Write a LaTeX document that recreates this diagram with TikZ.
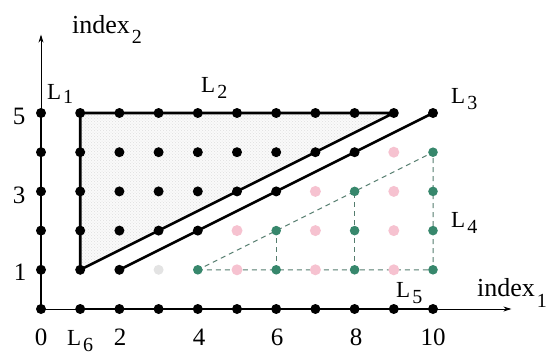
\documentclass[tikz,border=0pt]{standalone}
\usepackage{fontspec}
\setmainfont{Liberation Serif}
\usetikzlibrary{patterns,arrows.meta}
\definecolor{pinkdot}{RGB}{246,194,208}
\definecolor{greendot}{RGB}{55,135,108}
\definecolor{dashgreen}{RGB}{85,125,110}
\begin{document}
\begin{tikzpicture}[x=1pt,y=1pt,
  num/.style={font=\fontsize{25}{25}\selectfont, inner sep=0pt, anchor=base},
  llab/.style={font=\fontsize{23}{23}\selectfont, inner sep=0pt, anchor=base west},
  ilab/.style={font=\fontsize{26}{26}\selectfont, inner sep=0pt, anchor=base west},
  axisline/.style={line width=0.9pt, -{Stealth[length=8pt,width=5pt]}},
  thickline/.style={line width=2.6pt, line join=round},
  gdash/.style={dashgreen, line width=1pt, dash pattern=on 5pt off 4pt},
  bdot/.style={fill=black},
  pdot/.style={fill=pinkdot},
  gdot/.style={fill=greendot}]
\useasboundingbox (0,0) rectangle (555,360);
\newcommand{\subs}[3]{#1\kern2pt\raisebox{-#3}{\fontsize{20}{20}\selectfont #2}}
\begin{scope}[shift={(41,51)}, x=39.2pt, y=39.2pt]
  \coordinate (O) at (0,0);
  \coordinate (XE) at (12,0);
  \coordinate (YE) at (0,7);
  \coordinate (A) at (1,1);
  \coordinate (B) at (1,5);
  \coordinate (C) at (9,5);
  \coordinate (D) at (2,1);
  \coordinate (E) at (10,5);
  \coordinate (G1) at (4,1);
  \coordinate (G2) at (10,1);
  \coordinate (G3) at (10,4);
  % shaded triangle
  \fill[gray!4] (A) -- (B) -- (C) -- cycle;
  \fill[pattern=crosshatch dots, pattern color=gray!25] (A) -- (B) -- (C) -- cycle;
  % axes
  \draw[axisline] (O) -- (XE);
  \draw[axisline] (O) -- (YE);
  % thick lines
  \draw[thickline] (0,0) -- (0,5);
  \draw[thickline] (1,0) -- (10,0);
  \draw[thickline] (A) -- (B) -- (C) -- cycle;
  \draw[thickline] (D) -- (E);
  % green dashed region
  \draw[gdash] (G1) -- (G2) -- (G3) -- cycle;
  \draw[gdash] (6,1) -- (6,2);
  \draw[gdash] (8,1) -- (8,3);
  % pale dots
  \fill[gray!22] (3,1) circle (5pt);
  \foreach \p in {(5,1),(5,2),(7,1),(7,2),(7,3),(9,1),(9,2),(9,3),(9,4)}
    \fill[pdot] \p circle (5.5pt);
  \foreach \p in {(4,1),(6,1),(6,2),(8,1),(8,2),(8,3),(10,1),(10,2),(10,3),(10,4)}
    \fill[gdot] \p circle (4.8pt);
  % black dots
  \foreach \j in {0,...,5} \fill[bdot] (0,\j) circle (5pt);
  \foreach \i in {1,...,10} \fill[bdot] (\i,0) circle (5pt);
  \foreach \j in {1,...,5} \fill[bdot] (1,\j) circle (5pt);
  \foreach \i in {2,...,9} \fill[bdot] (\i,5) circle (5pt);
  \foreach \i in {2,...,7} \fill[bdot] (\i,4) circle (5pt);
  \foreach \i in {2,...,5} \fill[bdot] (\i,3) circle (5pt);
  \foreach \p in {(2,2),(3,2),(2,1),(4,2),(6,3),(8,4),(10,5)}
    \fill[bdot] \p circle (5pt);
\end{scope}
% axis labels
\node[ilab] (i2) at (72,327) {\subs{index}{2}{10pt}};
\node[ilab] (i1) at (477,64) {\subs{index}{1}{11pt}};
% line labels
\node[llab] (l1) at (47,261) {\subs{L}{1}{4pt}};
\node[llab] (l2) at (201,268) {\subs{L}{2}{6pt}};
\node[llab] (l3) at (451,257) {\subs{L}{3}{6pt}};
\node[llab] (l4) at (451,133) {\subs{L}{4}{6pt}};
\node[llab] (l5) at (396,63) {\subs{L}{5}{6pt}};
\node[llab] (l6) at (67,15) {\subs{L}{6}{6pt}};
% ticks
\node[num] (t0) at (41,15) {0};
\node[num] (t2) at (120,15) {2};
\node[num] (t4) at (199,15) {4};
\node[num] (t6) at (277,15) {6};
\node[num] (t8) at (356,15) {8};
\node[num] (t10) at (433,15) {10};
\node[num] (y5) at (19,236) {5};
\node[num] (y3) at (19,157) {3};
\node[num] (y1) at (20,80) {1};
\end{tikzpicture}
\end{document}
